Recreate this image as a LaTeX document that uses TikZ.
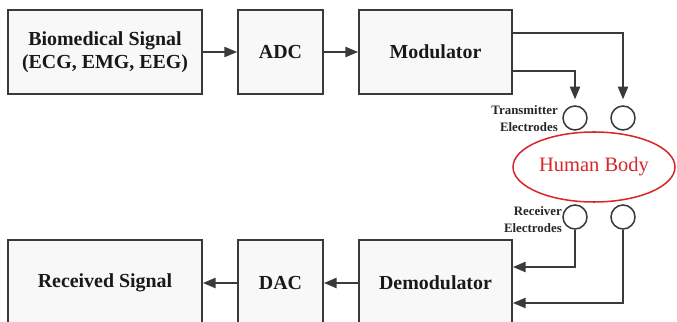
\documentclass[tikz,border=0pt]{standalone}
\usepackage{fontspec}
\setmainfont{Liberation Serif}
\usetikzlibrary{arrows.meta,shapes.geometric}
\definecolor{linegray}{HTML}{3A3A3A}
\definecolor{boxfill}{HTML}{F8F8F8}
\definecolor{bodyred}{HTML}{D9262B}
\newcommand{\boxfont}{\fontsize{17}{20}\selectfont\bfseries}
\newcommand{\tagfont}{\fontsize{11}{14.5}\selectfont\bfseries}
\begin{document}
\begin{tikzpicture}[x=0.3mm, y=-0.3mm,
  blk/.style={draw=linegray, line width=1.7pt, fill=boxfill, text=black!90,
    minimum height=25.2mm, align=center, font=\boxfont},
  elec/.style={circle, draw=linegray, line width=1.3pt, fill=white,
    minimum size=7.2mm, inner sep=0pt},
  tag/.style={align=right, font=\tagfont, text=black!85, inner sep=0pt},
  arr/.style={draw=linegray, line width=1.2pt,
    -{Triangle[length=3.8mm, width=3.1mm]}}]
  \clip (0,0) rectangle (677,322);
  % Transmit chain
  \node[blk, minimum width=58.2mm] (bio) at (105,52)
    {Biomedical Signal\\(ECG, EMG, EEG)};
  \node[blk, minimum width=25.5mm] (adc) at (280.5,52) {ADC};
  \node[blk, minimum width=45.9mm] (mod) at (435.5,52) {Modulator};
  \draw[arr] (bio) -- (adc);
  \draw[arr] (adc) -- (mod);
  % Electrodes and body
  \node[elec] (te1) at (575,118) {};
  \node[elec] (te2) at (623,118) {};
  \node[elec] (re1) at (575,217) {};
  \node[elec] (re2) at (623,217) {};
  \node[tag, anchor=east] (ttag) at (558,118.5) {Transmitter\\Electrodes};
  \node[tag, anchor=east] (rtag) at (562,220) {Receiver\\Electrodes};
  \node[ellipse, draw=bodyred, line width=1.3pt, fill=white, inner sep=0pt,
    minimum width=48.6mm, minimum height=21mm, text=bodyred,
    font=\fontsize{17.5}{20}\selectfont] (body) at (594,167) {Human Body};
  \draw[arr, shorten >=1.8mm] ([yshift=-5.7mm]mod.east) -| (te1);
  \draw[arr, shorten >=1.8mm] ([yshift=5.7mm]mod.east) -| (te2);
  % Receive chain
  \node[blk, minimum width=58.2mm, minimum height=25.8mm] (rx) at (105,283)
    {Received Signal};
  \node[blk, minimum width=25.5mm, minimum height=25.8mm] (dac) at (280.5,283)
    {DAC};
  \node[blk, minimum width=45.9mm, minimum height=25.8mm] (demod) at (435.5,283)
    {Demodulator};
  \draw[arr] (re1) |- ([yshift=4.8mm]demod.east);
  \draw[arr] (re2) |- ([yshift=-6mm]demod.east);
  \draw[arr] (demod) -- (dac);
  \draw[arr] (dac) -- (rx);
\end{tikzpicture}
\end{document}
